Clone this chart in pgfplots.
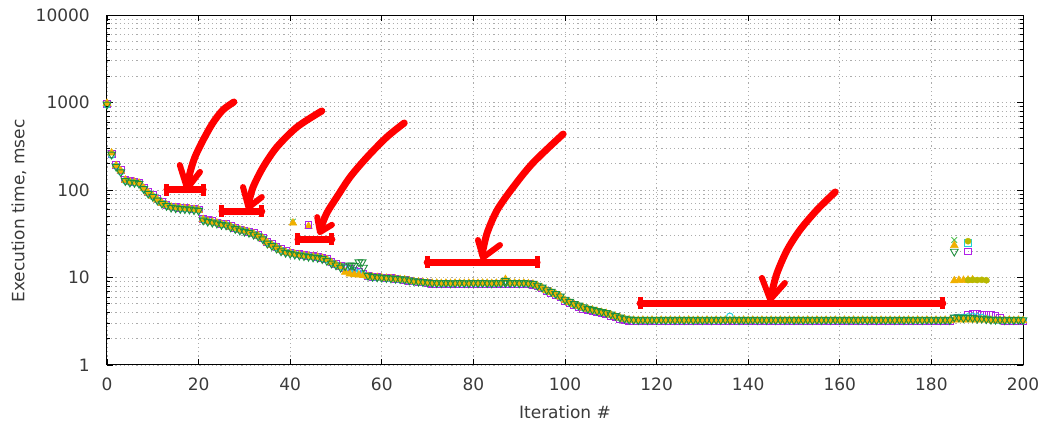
\documentclass[border=0pt]{standalone}
\usepackage{fontspec}
\setmainfont{DejaVu Sans}
\usepackage{pgfplots}
\pgfplotsset{compat=1.18}
\usepackage{pgfplotstable}

\definecolor{cor}{HTML}{F0B000}
\definecolor{cgr}{HTML}{1E8F3C}
\definecolor{cpu}{HTML}{B020E8}
\definecolor{ccy}{HTML}{20D0D8}
\definecolor{col}{HTML}{B8B800}
\definecolor{cbl}{HTML}{3060E0}
\definecolor{cxg}{HTML}{50C050}
\definecolor{cred}{HTML}{FF0000}
\definecolor{txt}{HTML}{3A3A3A}

\pgfplotstableread{
x a b c d
0 980 950 960 940
1 265 255 260 250
2 190 185 192 188
3 165 160 168 162
4 130 127 132 128
5 124 122 126 123
6 123 121 124 122
7 120 118 122 119
8 105 103 107 104
9 93 91 95 92
10 85 84 87 84
11 77 76 79 77
12 71 70 73 71
13 67 66 68 67
14 64 63 65 64
15 63 62 64 63
16 62 61 63 62
17 61.5 60.5 62 61
18 61 60 61.5 60.5
19 60 59 61 60
20 59 58 60 59
21 46 45 47 46
22 44 43.5 45 44
23 43 42.5 44 43
24 42 41.5 42.5 42
25 40.5 40 41 40.5
26 40 39.5 40.5 40
27 38 37.5 39 38
28 36.5 36 37 36.5
29 35 34.5 35.5 35
30 34 33.5 34.5 34
31 33 32.5 33.5 33
32 31.5 31 32 31.5
33 30 29.5 30.5 30
34 28 27.5 28.5 28
35 25 24.5 25.5 25
36 23.5 23 24 23.5
37 22 21.5 22.5 22
38 20.5 20 21 20.5
39 19.5 19.2 20 19.5
40 19 18.7 19.3 19
41 18.5 18.3 18.8 18.5
42 18.1 17.9 18.4 18.1
43 17.8 17.6 18 17.8
44 17.5 17.3 17.8 17.5
45 17.2 17 17.5 17.2
46 17 16.8 17.3 17
47 16.5 16.3 16.8 16.5
48 16 15.5 16.3 16
49 14.8 14.5 15.2 14.8
50 14 13.8 14.3 14
51 13.3 13 13.5 13.3
52 11.5 13.5 12.9 12.7
53 11 13.8 12.4 12.2
54 10.8 13.6 12 11.8
55 10.7 15 11.5 11.3
56 10.6 13 11 10.8
57 10.3 10.5 10.4 10.3
58 10.1 10.2 10.2 10.1
59 10 10.1 10.1 10
60 9.9 10 10 9.9
61 9.8 9.9 9.9 9.8
62 9.7 9.8 9.8 9.7
63 9.6 9.7 9.7 9.6
64 9.5 9.6 9.5 9.5
65 9.4 9.5 9.4 9.4
66 9.2 9.3 9.2 9.2
67 9 9.1 9 9
68 8.9 9 8.9 8.9
69 8.8 8.9 8.8 8.8
70 8.7 8.8 8.7 8.7
71 8.6 8.7 8.5 8.6
72 8.6 8.65 8.5 8.6
73 8.55 8.65 8.45 8.55
74 8.6 8.7 8.5 8.6
75 8.55 8.6 8.45 8.55
76 8.6 8.65 8.5 8.6
77 8.6 8.7 8.5 8.6
78 8.55 8.65 8.45 8.55
79 8.6 8.6 8.5 8.6
80 8.6 8.7 8.5 8.6
81 8.55 8.65 8.45 8.55
82 8.6 8.7 8.5 8.6
83 8.6 8.65 8.5 8.6
84 8.55 8.6 8.45 8.55
85 8.6 8.7 8.5 8.6
86 8.6 8.65 8.5 8.6
87 9.5 8.7 8.5 8.6
88 8.6 8.65 8.5 8.6
89 8.6 8.7 8.5 8.6
90 8.55 8.6 8.45 8.55
91 8.6 8.7 8.5 8.6
92 8.5 8.6 8.4 8.5
93 8.4 8.5 8.3 8.4
94 8 8.1 7.9 8
95 7.6 7.7 7.5 7.6
96 7.1 7.2 7 7.1
97 6.8 6.9 6.7 6.8
98 6.4 6.5 6.3 6.4
99 6 6.1 5.9 6
100 5.5 5.6 5.4 5.5
101 5.2 5.3 5.1 5.2
102 4.9 5 4.8 4.9
103 4.7 4.8 4.6 4.7
104 4.5 4.6 4.4 4.5
105 4.35 4.4 4.25 4.35
106 4.25 4.3 4.15 4.25
107 4.1 4.15 4 4.1
108 4 4.05 3.9 4
109 3.9 3.95 3.8 3.9
110 3.75 3.8 3.65 3.75
111 3.6 3.65 3.5 3.6
112 3.45 3.5 3.38 3.45
113 3.35 3.4 3.28 3.35
114 3.28 3.32 3.2 3.28
115 3.25 3.3 3.16 3.25
116 3.22 3.27 3.14 3.23
117 3.25 3.3 3.16 3.25
118 3.22 3.27 3.14 3.23
119 3.25 3.3 3.16 3.25
120 3.22 3.27 3.14 3.23
121 3.25 3.3 3.16 3.25
122 3.22 3.27 3.14 3.23
123 3.25 3.3 3.16 3.25
124 3.22 3.27 3.14 3.23
125 3.25 3.3 3.16 3.25
126 3.22 3.27 3.14 3.23
127 3.25 3.3 3.16 3.25
128 3.22 3.27 3.14 3.23
129 3.25 3.3 3.16 3.25
130 3.22 3.27 3.14 3.23
131 3.25 3.3 3.16 3.25
132 3.22 3.27 3.14 3.23
133 3.25 3.3 3.16 3.25
134 3.22 3.27 3.14 3.23
135 3.25 3.3 3.16 3.25
136 3.22 3.27 3.14 3.6
137 3.25 3.3 3.16 3.25
138 3.22 3.27 3.14 3.23
139 3.25 3.3 3.16 3.25
140 3.22 3.27 3.14 3.23
141 3.25 3.3 3.16 3.25
142 3.22 3.27 3.14 3.23
143 3.25 3.3 3.16 3.25
144 3.22 3.27 3.14 3.23
145 3.25 3.3 3.16 3.25
146 3.22 3.27 3.14 3.23
147 3.25 3.3 3.16 3.25
148 3.22 3.27 3.14 3.23
149 3.25 3.3 3.16 3.25
150 3.22 3.27 3.14 3.23
151 3.25 3.3 3.16 3.25
152 3.22 3.27 3.14 3.23
153 3.25 3.3 3.16 3.25
154 3.22 3.27 3.14 3.23
155 3.25 3.3 3.16 3.25
156 3.22 3.27 3.14 3.23
157 3.25 3.3 3.16 3.25
158 3.22 3.27 3.14 3.23
159 3.25 3.3 3.16 3.25
160 3.22 3.27 3.14 3.23
161 3.25 3.3 3.16 3.25
162 3.22 3.27 3.14 3.23
163 3.25 3.3 3.16 3.25
164 3.22 3.27 3.14 3.23
165 3.25 3.3 3.16 3.25
166 3.22 3.27 3.14 3.23
167 3.25 3.3 3.16 3.25
168 3.22 3.27 3.14 3.23
169 3.25 3.3 3.16 3.25
170 3.22 3.27 3.14 3.23
171 3.25 3.3 3.16 3.25
172 3.22 3.27 3.14 3.23
173 3.25 3.3 3.16 3.25
174 3.22 3.27 3.14 3.23
175 3.25 3.3 3.16 3.25
176 3.22 3.27 3.14 3.23
177 3.25 3.3 3.16 3.25
178 3.22 3.27 3.14 3.23
179 3.25 3.3 3.16 3.25
180 3.22 3.27 3.14 3.23
181 3.25 3.3 3.16 3.25
182 3.22 3.27 3.14 3.23
183 3.25 3.3 3.16 3.25
184 3.22 3.27 3.14 3.23
185 3.28 3.5 3.4 3.45
186 3.3 3.5 3.45 3.5
187 3.28 3.45 3.5 3.5
188 3.3 3.5 3.75 3.55
189 3.28 3.45 3.8 3.6
190 3.3 3.4 3.8 3.55
191 3.28 3.4 3.75 3.5
192 3.3 3.35 3.75 3.4
193 3.25 3.3 3.7 3.3
194 3.22 3.3 3.6 3.25
195 3.25 3.3 3.45 3.25
196 3.22 3.27 3.14 3.23
197 3.25 3.3 3.16 3.25
198 3.22 3.27 3.14 3.23
199 3.25 3.3 3.16 3.25
200 3.22 3.27 3.14 3.23
}\datatab

\begin{document}
\begin{tikzpicture}[font=\fontsize{17}{20}\selectfont]
\useasboundingbox (-107pt,-57pt) rectangle (935pt,365pt);
\begin{axis}[
  at={(0pt,0pt)}, anchor=south west,
  scale only axis, width=916pt, height=350pt,
  xmin=0, xmax=200, ymin=1, ymax=10000, ymode=log,
  xtick={0,20,...,200},
  ytick={1,10,100,1000,10000},
  yticklabels={1,10,100,1000,10000},
  minor ytick={2,3,4,5,6,7,8,9,20,30,40,50,60,70,80,90,200,300,400,500,600,700,800,900,2000,3000,4000,5000,6000,7000,8000,9000},
  /pgf/number format/assume math mode=true,
  tick align=inside,
  major tick length=6pt, minor tick length=3pt,
  tick style={black, line width=0.8pt},
  axis line style={black, line width=1pt},
  grid=both,
  major grid style={gray!65, line width=0.8pt, dash pattern=on 1.2pt off 3pt},
  minor grid style={gray!65, line width=0.8pt, dash pattern=on 1.2pt off 3pt},
  ticklabel style={text=txt},
  xticklabel style={anchor=center, yshift=-19pt, inner sep=0pt},
  yticklabel style={anchor=east, xshift=-17pt, inner sep=0pt},
  xlabel={Iteration \#},
  ylabel={Execution time, msec},
  label style={text=txt},
  xlabel style={at={(axis description cs:0.5,-0.134)}, anchor=center},
  ylabel style={at={(axis description cs:-0.0961,0.44)}, anchor=center},
]
% data series
\addplot[only marks, mark=square, mark size=3.4pt, cpu, mark options={line width=0.9pt}] table[x=x, y=c] {\datatab};
\addplot[only marks, mark=o, mark size=3.3pt, ccy, mark options={line width=0.9pt}] table[x=x, y=d] {\datatab};
\addplot[only marks, mark=triangle*, mark size=4.5pt, cor, mark options={line width=0.5pt}] table[x=x, y=a] {\datatab};
\addplot[only marks, mark=triangle, mark size=4.5pt, cgr, mark options={rotate=180, line width=0.9pt}] table[x=x, y=b] {\datatab};
% upper group near the end
\addplot[only marks, mark=triangle*, mark size=4.5pt, cor] coordinates {(185,9.2) (186,9.3) (187,9.3) (188,9.35) (189,9.4)};
\addplot[only marks, mark=*, mark size=3.1pt, col] coordinates {(188,9.35) (189,9.4) (190,9.35) (191,9.4) (192,9.3)};
% outliers
\addplot[only marks, mark=x, mark size=4pt, cxg, mark options={line width=0.9pt}] coordinates {(40.6,43.5) (185,26.8)};
\addplot[only marks, mark=triangle*, mark size=4.5pt, cor] coordinates {(40.6,42) (44,38.5) (185,23.3)};
\addplot[only marks, mark=square, mark size=3.4pt, cpu, mark options={line width=0.9pt}] coordinates {(44,39.5) (188,19.8)};
\addplot[only marks, mark=square, mark size=3.4pt, ccy, mark options={line width=0.9pt}] coordinates {(188,25)};
\addplot[only marks, mark=*, mark size=3.1pt, col] coordinates {(188,26)};
\addplot[only marks, mark=triangle, mark size=4.5pt, cgr, mark options={rotate=180, line width=0.9pt}] coordinates {(185,19.8) (53.5,13.8) (55.7,15) (87,9.2)};
% red annotations
\pgfplotsset{annot/.style={cred, line width=7pt, line cap=round, line join=round, no markers}}
\addplot[annot, smooth] coordinates {(27.7,1013) (25.3,821) (23.1,583) (21.0,373) (19.2,238) (18.1,156) (17.6,110)};
\addplot[annot, line width=6pt] coordinates {(15.9,193) (17.5,104) (20.3,161)};
\addplot[annot] coordinates {(13.1,100) (21.0,100)};
\addplot[annot, line width=5pt, line cap=butt] coordinates {(13.1,117) (13.1,85)};
\addplot[annot, line width=5pt, line cap=butt] coordinates {(21.0,117) (21.0,85)};

\addplot[annot, smooth] coordinates {(46.9,800) (41.5,525) (37.1,310) (34.1,183) (31.9,108) (30.9,70)};
\addplot[annot, line width=6pt] coordinates {(29.7,108) (30.9,63) (33.8,83)};
\addplot[annot] coordinates {(25.1,57.5) (33.8,57.5)};
\addplot[annot, line width=5pt, line cap=butt] coordinates {(25.1,67) (25.1,49)};
\addplot[annot, line width=5pt, line cap=butt] coordinates {(33.8,67) (33.8,49)};

\addplot[annot, smooth] coordinates {(64.9,583) (61.1,403) (56.8,238) (53.1,141) (50.2,83.2) (48.0,54.6) (46.6,36)};
\addplot[annot, line width=6pt] coordinates {(45.9,49) (46.5,33) (49.1,40)};
\addplot[annot] coordinates {(41.7,27.5) (49.1,27.5)};
\addplot[annot, line width=5pt, line cap=butt] coordinates {(41.7,32) (41.7,23.5)};
\addplot[annot, line width=5pt, line cap=butt] coordinates {(49.1,32) (49.1,23.5)};

\addplot[annot, smooth] coordinates {(99.6,436) (93.0,204) (88.7,108) (85.2,59.1) (83.0,32.3) (81.9,18.5)};
\addplot[annot, line width=6pt] coordinates {(81.0,26.8) (82.1,16.9) (85.8,23.5)};
\addplot[annot] coordinates {(69.9,15.0) (93.9,15.0)};
\addplot[annot, line width=5pt, line cap=butt] coordinates {(69.9,17.6) (69.9,12.8)};
\addplot[annot, line width=5pt, line cap=butt] coordinates {(93.9,17.6) (93.9,12.8)};

\addplot[annot, smooth] coordinates {(159.0,94.9) (155.0,59.1) (151.3,34.9) (148.5,20.6) (146.3,11.26) (145.2,6.9)};
\addplot[annot, line width=6pt] coordinates {(143.0,9.87) (144.8,5.6) (148.0,8.65)};
\addplot[annot] coordinates {(116.4,5.11) (182.5,5.11)};
\addplot[annot, line width=5pt, line cap=butt] coordinates {(116.4,6.0) (116.4,4.35)};
\addplot[annot, line width=5pt, line cap=butt] coordinates {(182.5,6.0) (182.5,4.35)};
\end{axis}
\end{tikzpicture}
\end{document}
